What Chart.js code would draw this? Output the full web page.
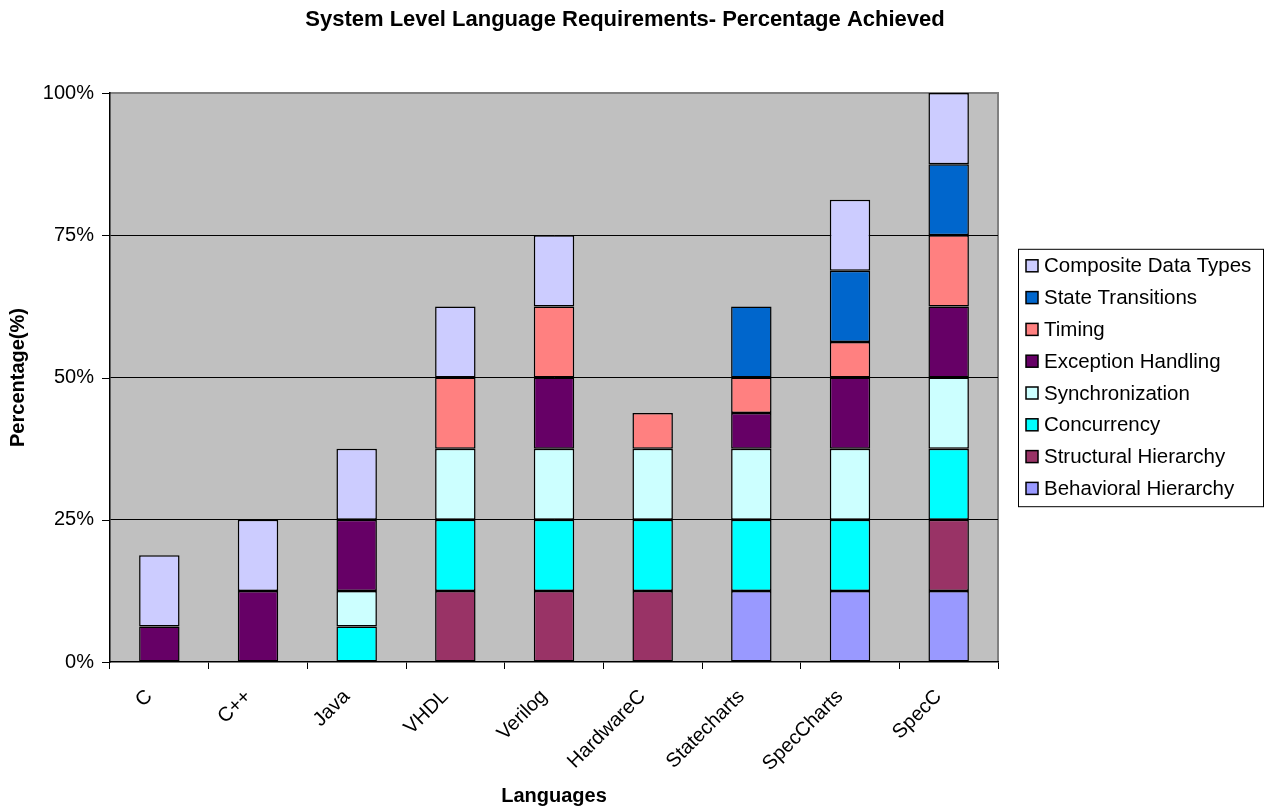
<!DOCTYPE html>
<html>
<head>
<meta charset="utf-8">
<script src="https://cdn.jsdelivr.net/npm/chart.js@4"></script>
<style>
  html, body { margin: 0; padding: 0; background: #ffffff; }
  #wrap { width: 1272px; height: 812px; }
</style>
</head>
<body>
<div id="wrap"><canvas id="chart" width="1272" height="812"></canvas></div>
<script>
// Categories
const languages = ['C', 'C++', 'Java', 'VHDL', 'Verilog', 'HardwareC', 'Statecharts', 'SpecCharts', 'SpecC'];

// Series values (% achieved per requirement, stacked)
const behavioralHierarchy = [0, 0, 0, 0, 0, 0, 12.5, 12.5, 12.5];
const structuralHierarchy = [0, 0, 0, 12.5, 12.5, 12.5, 0, 0, 12.5];
const concurrency         = [0, 0, 6.25, 12.5, 12.5, 12.5, 12.5, 12.5, 12.5];
const synchronization     = [0, 0, 6.25, 12.5, 12.5, 12.5, 12.5, 12.5, 12.5];
const exceptionHandling   = [6.25, 12.5, 12.5, 0, 12.5, 0, 6.25, 12.5, 12.5];
const timing              = [0, 0, 0, 12.5, 12.5, 6.25, 6.25, 6.25, 12.5];
const stateTransitions    = [0, 0, 0, 0, 0, 0, 12.5, 12.5, 12.5];
const compositeDataTypes  = [12.5, 12.5, 12.5, 12.5, 12.5, 0, 0, 12.5, 12.5];

// Y axis ticks
const yTicks = [0, 25, 50, 75, 100];

const FONT = 'Arial, "Liberation Sans", sans-serif';

const series = [
  { label: 'Behavioral Hierarchy', data: behavioralHierarchy, color: '#9999ff' },
  { label: 'Structural Hierarchy', data: structuralHierarchy, color: '#993366' },
  { label: 'Concurrency', data: concurrency, color: '#00ffff' },
  { label: 'Synchronization', data: synchronization, color: '#ccffff' },
  { label: 'Exception Handling', data: exceptionHandling, color: '#660066' },
  { label: 'Timing', data: timing, color: '#ff8080' },
  { label: 'State Transitions', data: stateTransitions, color: '#0066cc' },
  { label: 'Composite Data Types', data: compositeDataTypes, color: '#ccccff' }
];

// Plot background + border, drawn under the bars
const plotBackground = {
  id: 'plotBackground',
  beforeDraw(chart) {
    const { ctx, chartArea: a } = chart;
    ctx.save();
    ctx.fillStyle = '#c0c0c0';
    ctx.fillRect(a.left, a.top, a.right - a.left, a.bottom - a.top);
    ctx.strokeStyle = '#808080';
    ctx.lineWidth = 2;
    ctx.beginPath();
    ctx.moveTo(a.left, a.top);
    ctx.lineTo(a.right, a.top);
    ctx.lineTo(a.right, a.bottom);
    ctx.stroke();
    ctx.restore();
  }
};

// Title and legend box
const decorations = {
  id: 'decorations',
  afterDraw(chart) {
    const { ctx, chartArea: a } = chart;
    ctx.save();
    ctx.fillStyle = '#000';
    ctx.font = 'bold 22px ' + FONT;
    ctx.textAlign = 'center';
    ctx.textBaseline = 'middle';
    ctx.fillText('System Level Language Requirements- Percentage Achieved', 625, 20);

    // Legend (reverse order, like the stack)
    const items = chart.data.datasets.slice().reverse();
    const boxL = 1018, boxW = 245, rowH = 31.8;
    const boxH = items.length * rowH + 3;
    const boxT = (a.top + a.bottom) / 2 - boxH / 2;
    ctx.fillStyle = '#fff';
    ctx.fillRect(boxL, boxT, boxW, boxH);
    ctx.strokeStyle = '#000';
    ctx.lineWidth = 1;
    ctx.strokeRect(boxL + 0.5, boxT + 0.5, boxW, boxH);
    ctx.font = '20.5px ' + FONT;
    ctx.textAlign = 'left';
    items.forEach((ds, i) => {
      const cy = boxT + 17 + i * rowH;
      ctx.fillStyle = ds.backgroundColor;
      ctx.fillRect(boxL + 8, cy - 6, 12, 12);
      ctx.strokeStyle = '#000';
      ctx.lineWidth = 1.5;
      ctx.strokeRect(boxL + 8, cy - 6, 12, 12);
      ctx.fillStyle = '#000';
      ctx.fillText(ds.label, boxL + 26, cy + 1);
    });
    ctx.restore();
  }
};

new Chart(document.getElementById('chart'), {
  type: 'bar',
  data: {
    labels: languages,
    datasets: series.map(s => ({
      label: s.label,
      data: s.data,
      backgroundColor: s.color,
      borderColor: '#000000',
      borderWidth: ctx => (ctx.raw ? 1.5 : 0),
      borderSkipped: false,
      barPercentage: 0.41,
      categoryPercentage: 1.0
    }))
  },
  options: {
    responsive: false,
    animation: false,
    layout: { padding: { top: 93, right: 274, left: 0, bottom: 0 } },
    plugins: {
      legend: { display: false },
      title: { display: false },
      tooltip: { enabled: false }
    },
    scales: {
      x: {
        stacked: true,
        grid: {
          display: true,
          drawOnChartArea: false,
          drawTicks: true,
          tickLength: 7,
          offset: true,
          color: '#000'
        },
        border: { display: true, color: '#000', width: 1.5 },
        ticks: {
          color: '#000',
          font: { family: FONT, size: 20 },
          maxRotation: 45,
          minRotation: 45,
          padding: 16,
          labelOffset: -10
        },
        title: {
          display: true,
          text: 'Languages',
          color: '#000',
          font: { family: FONT, size: 20, weight: 'bold' },
          padding: { top: 0, bottom: 4 }
        },
        afterFit(scale) { scale.height = 150; }
      },
      y: {
        stacked: true,
        min: 0,
        max: 100,
        afterBuildTicks(scale) { scale.ticks = yTicks.map(v => ({ value: v })); },
        grid: {
          color: ctx => (ctx.tick && (ctx.tick.value === 0 || ctx.tick.value === 100)) ? 'rgba(0,0,0,0)' : '#000',
          lineWidth: 1,
          drawTicks: false
        },
        border: { display: true, color: '#000', width: 1.5 },
        ticks: {
          color: '#000',
          font: { family: FONT, size: 20 },
          padding: 16,
          callback: v => v + '%'
        },
        title: {
          display: true,
          text: 'Percentage(%)',
          color: '#000',
          font: { family: FONT, size: 20, weight: 'bold' },
          padding: { top: 6, bottom: 0 }
        },
        afterFit(scale) { scale.width = 110; }
      }
    }
  },
  plugins: [plotBackground, decorations,
    {
      // short tick marks left of the y axis
      id: 'yTickMarks',
      afterDraw(chart) {
        const { ctx } = chart;
        const y = chart.scales.y;
        ctx.save();
        ctx.strokeStyle = '#000';
        ctx.lineWidth = 1;
        yTicks.forEach(v => {
          const py = Math.round(y.getPixelForValue(v)) + 0.5;
          ctx.beginPath();
          ctx.moveTo(y.right - 8, py);
          ctx.lineTo(y.right, py);
          ctx.stroke();
        });
        ctx.restore();
      }
    }
  ]
});
</script>
</body>
</html>
